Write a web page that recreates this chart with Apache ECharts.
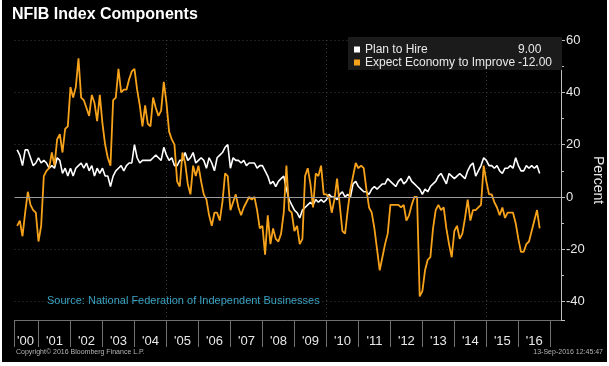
<!DOCTYPE html>
<html><head><meta charset="utf-8">
<script src="https://cdn.jsdelivr.net/npm/echarts@6/dist/echarts.min.js"></script>
<style>
html,body{margin:0;padding:0;background:#fff;}
#c{width:609px;height:366px;background:#000;box-shadow:inset 2px 0 0 #fff, inset -2px -4px 0 #fff;}
</style></head><body><div id="c"></div>
<script>
// Month-end categories (Mar 2000 .. Apr 2017)
const categories = [];
for (let k = 3; k <= 208; k++) {
  const y = 2000 + Math.floor((k - 1) / 12);
  const m = (k - 1) % 12 + 1;
  categories.push(y + '-' + String(m).padStart(2, '0'));
}
const dataStart = '2000-04';
const seriesNames = ['Plan to Hire', 'Expect Economy to Improve'];
const yTickLabels = [-40, -20, 0, 20, 40, 60];

// Apr 2000 .. Aug 2016
const planToHire = [
  18,16,12,18,18,15,12,13,15,
  13,14,13,11,12,11,15,14,9,11,8,11,
  8,11,12,13,11,13,10,12,8,11,9,11,
  8,8,4,8,10,11,12,10,12,13,13,20,
  15,13,14,14,14,14,15,16,15,14,19,16,
  14,15,12,12,14,14,17,14,15,17,13,14,
  15,14,11,15,13,10,15,16,17,19,20,11,
  15,14,14,13,14,12,13,13,13,11,12,12,
  10,8,5,6,4,6,7,8,3,-1,-3,-5,
  -6,-8,-5,-4,-3,-2,-3,-1,-2,-1,-2,-1,
  1,0,0,-1,1,2,0,1,0,5,6,4,
  3,2,2,1,3,4,3,4,5,5,7,6,
  5,4,6,7,5,6,8,6,5,4,3,1,
  3,2,4,5,6,8,9,7,5,9,8,7,
  8,9,8,7,10,12,13,8,10,12,15,14,
  12,12,11,12,10,9,11,11,12,11,15,12,
  10,10,12,11,12,11,12,9
];
const expectEconomy = [
  -11,-9,-15,-6,2,-3,-5,-6,-17,
  -11,8,10,11,17,12,22,24,17,26,27,42,
  38,42,53,38,37,34,31,39,36,29,39,28,
  20,15,12,37,38,49,40,41,41,45,48,49,
  41,35,27,35,28,27,38,34,31,33,44,36,
  25,22,20,6,4,17,13,5,1,12,8,12,
  6,1,-1,-7,-11,-6,-6,-9,-2,9,8,-5,
  -2,1,-4,-7,-4,-2,0,-1,0,-5,-12,-11,
  -22,-7,-18,-12,-16,-17,-14,-6,12,-5,-6,-13,
  -11,-18,-16,8,11,5,-4,9,8,12,1,1,
  0,-6,-1,7,-3,-13,-14,-5,3,8,13,11,
  12,11,3,-4,-6,-12,-20,-28,-23,-18,-14,-3,
  -3,-3,-3,-4,-3,-9,-7,-3,0,0,-38,-36,
  -28,-24,-23,-12,-5,-3,-5,-4,-12,-18,-23,-13,
  -11,-16,-14,-8,-1,-9,-5,-5,-4,-3,12,6,
  1,1,-2,-4,-7,-4,-8,-6,-6,-6,-10,-16,
  -21,-21,-18,-17,-13,-9,-5,-12
];

const off = categories.indexOf(dataStart);
function pad(arr) { return categories.map((c, i) => (i >= off && i - off < arr.length) ? arr[i - off] : null); }
const lastVal = { [seriesNames[0]]: planToHire[planToHire.length - 1], [seriesNames[1]]: expectEconomy[expectEconomy.length - 1] };

const FONT = 'Liberation Sans, Arial, sans-serif';
const chart = echarts.init(document.getElementById('c'), null, { renderer: 'canvas' });
chart.setOption({
  backgroundColor: 'transparent',
  animation: false,
  textStyle: { fontFamily: FONT },
  title: [
    { text: 'NFIB Index Components', left: 12, top: 7, padding: 0,
      textStyle: { color: '#ffffff', fontSize: 16, fontWeight: 'bold', fontFamily: FONT } },
    { text: 'Source: National Federation of Independent Businesses', left: 47, top: 295, padding: 0,
      textStyle: { color: '#3aa3c3', fontSize: 11, fontWeight: 'normal', fontFamily: FONT } },
    { text: 'Copyright\u00a9 2016 Bloomberg Finance L.P.', left: 16, top: 349, padding: 0,
      textStyle: { color: '#b4b4b4', fontSize: 7, fontWeight: 'normal', fontFamily: FONT } },
    { text: '13-Sep-2016 12:45:47', right: 6, top: 349, padding: 0,
      textStyle: { color: '#b4b4b4', fontSize: 7, fontWeight: 'normal', fontFamily: FONT } }
  ],
  legend: {
    orient: 'vertical', left: 348, top: 37, padding: [6, 10, 1, 6], itemGap: 0,
    itemWidth: 6, itemHeight: 6, icon: 'rect', backgroundColor: '#1b1b1b', selectedMode: false,
    data: seriesNames,
    textStyle: { color: '#e8e8e8', fontSize: 12, lineHeight: 13, fontFamily: FONT,
      rich: { n: { width: 153, fontSize: 12, color: '#e8e8e8', fontFamily: FONT },
              v: { fontSize: 12, color: '#e8e8e8', fontFamily: FONT } } },
    formatter: name => '{n|' + name + '}{v|' + lastVal[name].toFixed(2) + '}'
  },
  grid: { left: 14.5, right: 48, top: 40, bottom: 46, containLabel: false, outerBoundsMode: 'none' },
  xAxis: {
    type: 'category', data: categories, boundaryGap: false,
    axisLine: { show: true, onZero: false, lineStyle: { color: '#707070', width: 1 } },
    axisTick: { show: true, length: 27, interval: (i, v) => i === 0 || v.endsWith('-12'),
      lineStyle: { color: '#707070' } },
    axisLabel: { interval: (i, v) => v.endsWith('-06'),
      formatter: (v, i) => i < 12 ? "{f|'" + v.slice(2, 4) + "}" : "'" + v.slice(2, 4),
      rich: { f: { padding: [0, 0, 0, 6], color: '#e8e8e8', fontSize: 13, fontFamily: FONT } },
      color: '#e8e8e8', fontSize: 13, margin: 15, fontFamily: FONT },
    splitLine: { show: true, interval: (i, v) => v.endsWith('-12') && (parseInt(v.slice(0, 4)) + 1) % 5 === 0,
      lineStyle: { color: '#3c3c3c', type: [1, 3] } }
  },
  yAxis: {
    type: 'value', position: 'right', min: -47, max: 60, minInterval: 20, maxInterval: 20,
    axisLine: { show: true, lineStyle: { color: '#c0c0c0', width: 1 } },
    axisTick: { show: true, length: 4, lineStyle: { color: '#c0c0c0' } },
    minorTick: { show: true, splitNumber: 2, length: 3, lineStyle: { color: '#c0c0c0' } },
    axisLabel: { color: '#e8e8e8', fontSize: 13, margin: 5, fontFamily: FONT,
      formatter: v => yTickLabels.includes(v) ? String(v) : '' },
    splitLine: { show: true, lineStyle: { color: '#3c3c3c', type: [1, 3] } },
    name: 'Percent', nameLocation: 'middle', nameRotate: -90, nameGap: 30, nameMoveOverlap: false,
    nameTextStyle: { color: '#e8e8e8', fontSize: 14, fontFamily: FONT }
  },
  series: [
    { name: seriesNames[0], type: 'line', data: pad(planToHire), showSymbol: false, symbol: 'none',
      lineStyle: { color: '#ffffff', width: 1.6 }, itemStyle: { color: '#ffffff' }, z: 3,
      markLine: { silent: true, symbol: 'none', label: { show: false },
        lineStyle: { color: '#9a9a9a', width: 1, type: 'solid' }, data: [{ yAxis: 0 }] } },
    { name: seriesNames[1], type: 'line', data: pad(expectEconomy), showSymbol: false, symbol: 'none',
      lineStyle: { color: '#f7a21b', width: 1.8 }, itemStyle: { color: '#f7a21b' }, z: 4 }
  ]
});
</script></body></html>
